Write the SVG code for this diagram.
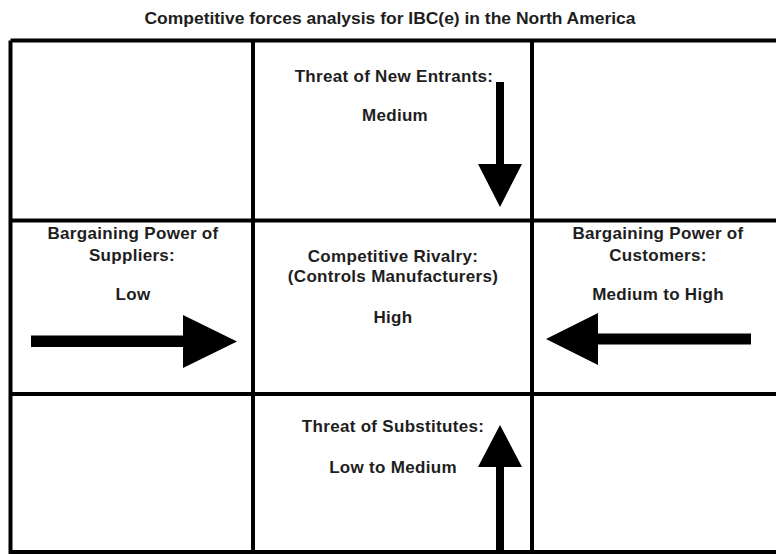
<svg xmlns="http://www.w3.org/2000/svg" width="776" height="554" viewBox="0 0 776 554">
<style>
.t{font-family:"Liberation Sans",Arial,sans-serif;font-weight:bold;font-size:17px;fill:#1e1e1e;text-anchor:middle;letter-spacing:0.3px}
.title{font-family:"Liberation Sans",Arial,sans-serif;font-weight:bold;font-size:16px;fill:#1e1e1e;text-anchor:middle}
.g{stroke:#000;stroke-width:4;fill:none}
.a{fill:#000;stroke:none}
</style>
<rect width="776" height="554" fill="#fff"/>
<text class="title" x="390" y="24" textLength="491" lengthAdjust="spacingAndGlyphs">Competitive forces analysis for IBC(e) in the North America</text>
<g id="grid">
<path class="g" d="M10.5 40.5H776M10.5 220.5H776M10.5 394H776M10.5 552H776M10.5 40.5V554M253 40.5V554M532 40.5V554"/>
</g>
<g id="new-entrants">
<text class="t" x="394" y="82">Threat of New Entrants:</text>
<text class="t" x="395" y="121">Medium</text>
</g>
<g id="suppliers">
<text class="t" x="133" y="239">Bargaining Power of</text>
<text class="t" x="132" y="261">Suppliers:</text>
<text class="t" x="133" y="300">Low</text>
</g>
<g id="rivalry">
<text class="t" x="393" y="262">Competitive Rivalry:</text>
<text class="t" x="393" y="282">(Controls Manufacturers)</text>
<text class="t" x="393" y="323">High</text>
</g>
<g id="customers">
<text class="t" x="658" y="239">Bargaining Power of</text>
<text class="t" x="658" y="261">Customers:</text>
<text class="t" x="658" y="300">Medium to High</text>
</g>
<g id="substitutes">
<text class="t" x="393" y="432">Threat of Substitutes:</text>
<text class="t" x="393" y="473">Low to Medium</text>
</g>
<g id="connectors">
<polygon class="a" points="496,82 504,82 504,164 522,164 500,207 478,164 496,164"/>
<polygon class="a" points="496,554 504,554 504,467 522,467 500,425 478,467 496,467"/>
<polygon class="a" points="31,335.5 183,335.5 183,315 237,341.5 183,368 183,347 31,347"/>
<polygon class="a" points="751,333.5 598,333.5 598,313 546,339 598,365 598,344.5 751,344.5"/>
</g>
</svg>
